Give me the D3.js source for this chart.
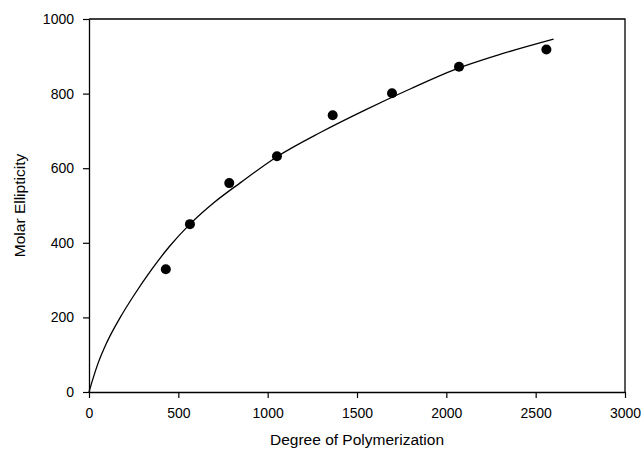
<!DOCTYPE html>
<html>
<head>
<meta charset="utf-8">
<script src="https://cdn.jsdelivr.net/npm/d3@7"></script>
<style>
  body { margin: 0; background: #fff; }
  text { font-family: "Liberation Sans", Arial, sans-serif; fill: #000; }
</style>
</head>
<body>
<div id="chart"></div>
<script>
// measured points
const dpX = [430, 565, 785, 1052, 1364, 1696, 2071, 2560];
const ellipY = [329, 450, 560, 632, 742, 801, 872, 918];

// fitted line
const fitX = [0, 25, 50, 100, 175, 250, 350, 450, 565, 700, 850, 1050, 1300, 1550, 1800, 2050, 2300, 2600];
const fitY = [0, 40, 76, 133, 200, 258, 328, 390, 450, 508, 562, 630, 697, 757, 813, 865, 905, 946];

const xTicks = [0, 500, 1000, 1500, 2000, 2500, 3000];
const yTicks = [0, 200, 400, 600, 800, 1000];

const width = 643, height = 454;
const margin = {top: 19, right: 18, bottom: 62, left: 89};

const svg = d3.select("#chart").append("svg")
    .attr("width", width)
    .attr("height", height);

const x = d3.scaleLinear().domain([0, 3000]).range([margin.left, width - margin.right]);
const y = d3.scaleLinear().domain([0, 1000]).range([height - margin.bottom, margin.top]);

// frame (top + right)
svg.append("path")
    .attr("d", `M${x(0)},${y(1000)}H${x(3000)}V${y(0)}`)
    .attr("fill", "none")
    .attr("stroke", "#000")
    .attr("stroke-width", 1.3);

// axes
const xAxis = svg.append("g")
    .attr("transform", `translate(0,${y(0)})`)
    .call(d3.axisBottom(x).tickValues(xTicks).tickFormat(d3.format("d"))
        .tickSize(6).tickPadding(10).tickSizeOuter(0));

const yAxis = svg.append("g")
    .attr("transform", `translate(${x(0)},0)`)
    .call(d3.axisLeft(y).tickValues(yTicks).tickFormat(d3.format("d"))
        .tickSize(6).tickPadding(9).tickSizeOuter(0));

[xAxis, yAxis].forEach(g => {
    g.select(".domain").attr("stroke-width", 1.3);
    g.selectAll(".tick line").attr("stroke-width", 1.2);
    g.selectAll(".tick text")
        .style("font-family", '"Liberation Sans", Arial, sans-serif')
        .style("font-size", "14px");
});

// fit curve
const line = d3.line()
    .x(i => x(fitX[i]))
    .y(i => y(fitY[i]))
    .curve(d3.curveMonotoneX);

svg.append("path")
    .attr("d", line(d3.range(fitX.length)))
    .attr("fill", "none")
    .attr("stroke", "#000")
    .attr("stroke-width", 1.3);

// dots
svg.append("g")
    .selectAll("circle")
    .data(d3.range(dpX.length))
    .join("circle")
    .attr("cx", i => x(dpX[i]))
    .attr("cy", i => y(ellipY[i]))
    .attr("r", 5)
    .attr("fill", "#000");

// titles
svg.append("text")
    .attr("x", (x(0) + x(3000)) / 2)
    .attr("y", 445)
    .attr("text-anchor", "middle")
    .style("font-size", "15.5px")
    .text("Degree of Polymerization");

svg.append("text")
    .attr("transform", `translate(25,${(y(0) + y(1000)) / 2}) rotate(-90)`)
    .attr("text-anchor", "middle")
    .style("font-size", "15.5px")
    .text("Molar Ellipticity");
</script>
</body>
</html>
